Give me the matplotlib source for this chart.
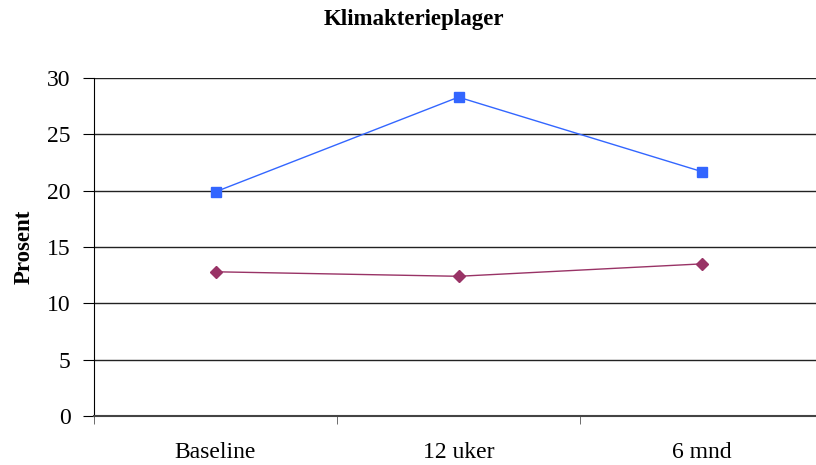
import matplotlib.pyplot as plt

plt.rcParams['font.family'] = ['Liberation Serif', 'DejaVu Serif']

categories = ['Baseline', '12 uker', '6 mnd']
serie_a = [19.9, 28.3, 21.7]
serie_b = [12.8, 12.4, 13.5]

fig = plt.figure(figsize=(8.16, 4.65), dpi=100)
ax = fig.add_axes([94 / 816, 1 - 416 / 465, (823 - 94) / 816, (416 - 78) / 465])

x = range(len(categories))
ax.plot(x, serie_a, color='#3366ff', lw=1, marker='s', ms=7, zorder=3)
ax.plot(x, serie_b, color='#993366', lw=1, marker='D', ms=6, zorder=3)

ax.set_xlim(-0.5, 2.5)
ax.set_ylim(0, 30)
ax.set_yticks(range(0, 31, 5))
ax.yaxis.grid(True, color='#222222', lw=1)
ax.set_axisbelow(True)

ax.set_xticks(list(x))
ax.set_xticklabels(categories, fontsize=17)
ax.tick_params(axis='x', which='major', length=0, pad=19)
ax.set_xticks([-0.5, 0.5, 1.5], minor=True)
ax.tick_params(axis='x', which='minor', length=6, color='#555555')
ax.tick_params(axis='y', length=8, labelsize=17, pad=9)

for side in ['top', 'right']:
    ax.spines[side].set_visible(False)
ax.spines['bottom'].set_color('#444444')
ax.spines['bottom'].set_linewidth(1.5)

ax.set_ylabel('Prosent', fontsize=16.5, fontweight='bold', labelpad=9)
fig.text(414 / 816, 1 - 20 / 465, 'Klimakterieplager', ha='center', va='center',
         fontsize=16.5, fontweight='bold')

fig.savefig('out.png', dpi=100)
